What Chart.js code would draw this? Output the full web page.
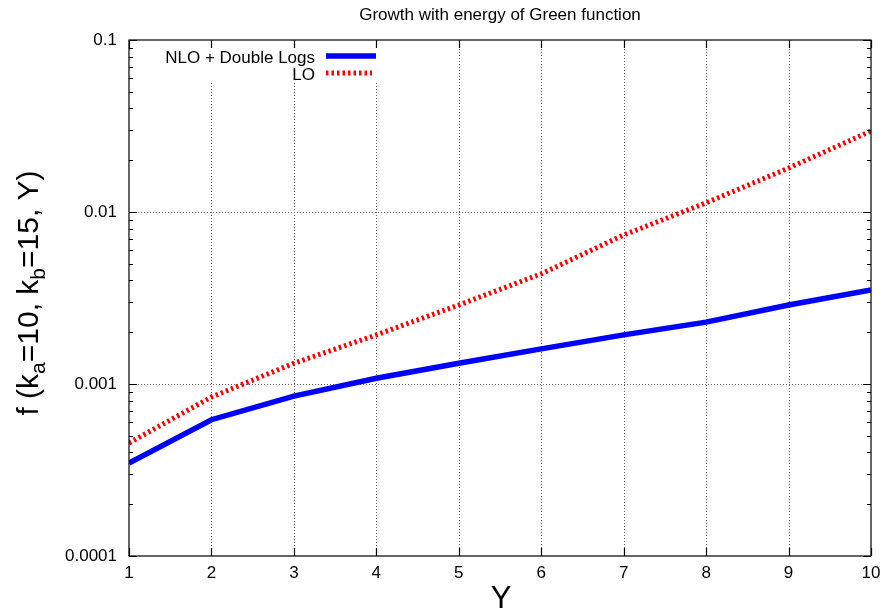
<!DOCTYPE html>
<html>
<head>
<meta charset="utf-8">
<script src="https://cdn.jsdelivr.net/npm/chart.js@4/dist/chart.umd.min.js"></script>
<style>
  body { margin: 0; background: #fff; }
  #wrap { width: 883px; height: 609px; }
</style>
</head>
<body>
<div id="wrap"><canvas id="greenChart" width="883" height="609"></canvas></div>
<script>
// Données
const rapidity = [1, 2, 3, 4, 5, 6, 7, 8, 9, 10];
const nloDoubleLogs = [3.47e-4, 6.2e-4, 8.5e-4, 1.08e-3, 1.32e-3, 1.60e-3, 1.93e-3, 2.29e-3, 2.88e-3, 3.52e-3];
const loValues = [4.54e-4, 8.4e-4, 1.32e-3, 1.93e-3, 2.88e-3, 4.37e-3, 7.35e-3, 1.13e-2, 1.80e-2, 2.96e-2];
const yMajorTicks = [0.0001, 0.001, 0.01, 0.1];
const xTicks = [1, 2, 3, 4, 5, 6, 7, 8, 9, 10];
const seriesLabels = ['NLO + Double Logs', 'LO'];
const titleText = 'Growth with energy of Green function';

const FONT = '"Liberation Sans", Arial, Helvetica, sans-serif';
Chart.defaults.font.family = FONT;
Chart.defaults.color = '#000';

function toPoints(values) {
    return rapidity.map((x, i) => ({ x: x, y: values[i] }));
}

// Cadre, grille, graduations et légende à la gnuplot
const gnuplotStyle = {
    id: 'gnuplotStyle',
    beforeDatasetsDraw(chart) {
        const { ctx, chartArea: a, scales: { x, y } } = chart;
        const legendBottom = 83, legendRight = 385;
        ctx.save();
        ctx.strokeStyle = '#666';
        ctx.lineWidth = 1;
        ctx.setLineDash([1, 2]);
        ctx.beginPath();
        xTicks.slice(1, -1).forEach(v => {
            const px = Math.round(x.getPixelForValue(v)) + 0.5;
            const top = px < legendRight ? legendBottom : a.top;
            ctx.moveTo(px, top);
            ctx.lineTo(px, a.bottom);
        });
        yMajorTicks.slice(1, -1).forEach(v => {
            const py = Math.round(y.getPixelForValue(v)) + 0.5;
            ctx.moveTo(a.left, py);
            ctx.lineTo(a.right, py);
        });
        ctx.stroke();
        ctx.restore();
    },
    afterDatasetsDraw(chart) {
        const { ctx, chartArea: a, scales: { x, y } } = chart;
        ctx.save();
        ctx.strokeStyle = '#000';
        ctx.lineWidth = 1.2;
        ctx.setLineDash([]);
        ctx.strokeRect(a.left, a.top, a.right - a.left, a.bottom - a.top);

        // graduations intérieures
        ctx.beginPath();
        xTicks.forEach(v => {
            const px = Math.round(x.getPixelForValue(v)) + 0.5;
            ctx.moveTo(px, a.bottom); ctx.lineTo(px, a.bottom - 8);
            ctx.moveTo(px, a.top); ctx.lineTo(px, a.top + 8);
        });
        yMajorTicks.forEach(v => {
            const py = Math.round(y.getPixelForValue(v)) + 0.5;
            ctx.moveTo(a.left, py); ctx.lineTo(a.left + 8, py);
            ctx.moveTo(a.right, py); ctx.lineTo(a.right - 8, py);
        });
        yMajorTicks.slice(0, -1).forEach(d => {
            for (let m = 2; m <= 9; m++) {
                const py = Math.round(y.getPixelForValue(d * m)) + 0.5;
                ctx.moveTo(a.left, py); ctx.lineTo(a.left + 4, py);
                ctx.moveTo(a.right, py); ctx.lineTo(a.right - 4, py);
            }
        });
        ctx.stroke();

        // légende
        ctx.font = '17px ' + FONT;
        ctx.fillStyle = '#000';
        ctx.textAlign = 'right';
        ctx.textBaseline = 'alphabetic';
        const rows = [{ y: 63, line: 56, x2: 376 }, { y: 80, line: 73, x2: 372 }];
        chart.data.datasets.forEach((ds, i) => {
            const r = rows[i];
            ctx.fillText(ds.label, 315, r.y);
            ctx.beginPath();
            ctx.strokeStyle = ds.borderColor;
            ctx.lineWidth = ds.borderWidth;
            ctx.lineCap = 'butt';
            ctx.setLineDash(ds.borderDash || []);
            ctx.moveTo(326, r.line);
            ctx.lineTo(r.x2, r.line);
            ctx.stroke();
        });
        ctx.setLineDash([]);

        // titre
        ctx.textAlign = 'center';
        ctx.fillText(titleText, (a.left + a.right) / 2, 20);

        // titre axe X
        ctx.font = '31px ' + FONT;
        ctx.fillText('Y', (a.left + a.right) / 2 + 1, 608);

        // titre axe Y avec indices
        const parts = [
            ['f (k', false], ['a', true], ['=10, k', false], ['b', true], ['=15, Y)', false]
        ];
        const big = '30px ' + FONT, small = '21px ' + FONT;
        let total = 0;
        parts.forEach(p => { ctx.font = p[1] ? small : big; total += ctx.measureText(p[0]).width; });
        ctx.translate(38, (a.top + a.bottom) / 2 - 5);
        ctx.rotate(-Math.PI / 2);
        ctx.textAlign = 'left';
        let cx = -total / 2;
        parts.forEach(p => {
            ctx.font = p[1] ? small : big;
            ctx.fillText(p[0], cx, p[1] ? 7 : 0);
            cx += ctx.measureText(p[0]).width;
        });
        ctx.restore();
    }
};

const ctx = document.getElementById('greenChart').getContext('2d');
new Chart(ctx, {
    type: 'line',
    data: {
        datasets: [{
            label: seriesLabels[0],
            data: toPoints(nloDoubleLogs),
            borderColor: '#0000ff',
            borderWidth: 5.5,
            pointRadius: 0,
            tension: 0,
            fill: false
        }, {
            label: seriesLabels[1],
            data: toPoints(loValues),
            borderColor: '#ff0000',
            borderWidth: 5,
            borderDash: [2.5, 3],
            borderCapStyle: 'butt',
            pointRadius: 0,
            tension: 0,
            fill: false
        }]
    },
    options: {
        responsive: false,
        animation: false,
        layout: { padding: { top: 40, right: 12, left: 0, bottom: 0 } },
        plugins: {
            legend: { display: false },
            title: { display: false },
            tooltip: { enabled: false }
        },
        scales: {
            x: {
                type: 'linear',
                min: 1,
                max: 10,
                afterFit: scale => {
                    scale.height = 53;
                    scale.paddingLeft = 0;
                    scale.paddingRight = 0;
                },
                afterBuildTicks: scale => { scale.ticks = xTicks.map(v => ({ value: v })); },
                grid: { display: false, drawTicks: false },
                border: { display: false },
                ticks: { padding: 7, font: { size: 17 }, color: '#000', maxRotation: 0 }
            },
            y: {
                type: 'logarithmic',
                min: 0.0001,
                max: 0.1,
                afterFit: scale => {
                    scale.width = 129;
                    scale.paddingTop = 0;
                    scale.paddingBottom = 0;
                },
                afterBuildTicks: scale => { scale.ticks = yMajorTicks.map(v => ({ value: v })); },
                grid: { display: false, drawTicks: false },
                border: { display: false },
                ticks: {
                    padding: 12,
                    font: { size: 17 },
                    color: '#000',
                    callback: v => String(v)
                }
            }
        }
    },
    plugins: [gnuplotStyle]
});
</script>
</body>
</html>
